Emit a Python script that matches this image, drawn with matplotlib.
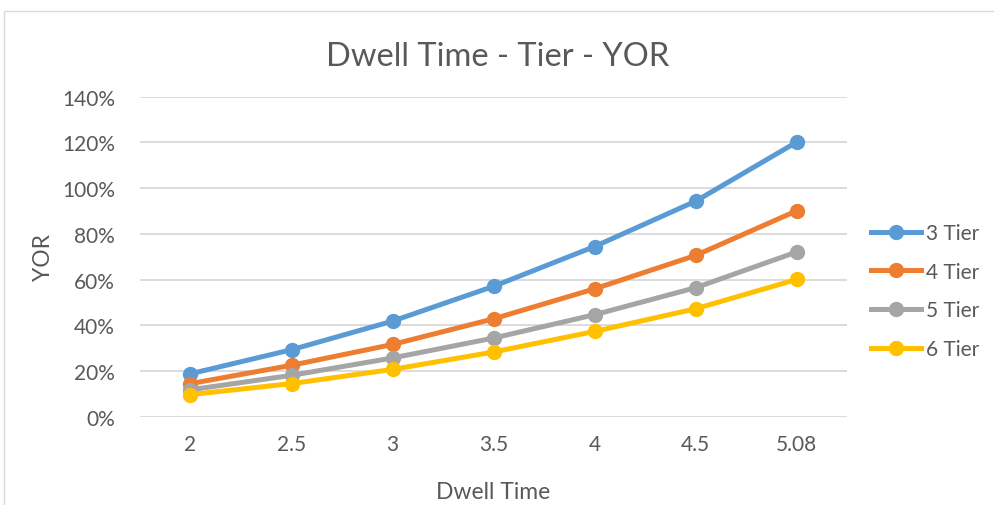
import matplotlib
matplotlib.use("Agg")
import matplotlib.pyplot as plt
from matplotlib.lines import Line2D
from matplotlib.patches import Rectangle

categories = ["2", "2.5", "3", "3.5", "4", "4.5", "5.08"]
tier3 = [18.9, 29.4, 41.9, 57.1, 74.5, 94.3, 120.1]
tier4 = [14.6, 22.6, 31.7, 42.9, 56.0, 70.6, 90.1]
tier5 = [11.9, 18.2, 25.8, 34.5, 44.7, 56.5, 72.1]
tier6 = [9.8, 14.6, 20.8, 28.4, 37.4, 47.3, 60.1]
series_names = ["3 Tier", "4 Tier", "5 Tier", "6 Tier"]
yticks = [0, 20, 40, 60, 80, 100, 120, 140]

colors = ["#5B9BD5", "#ED7D31", "#A5A5A5", "#FFC000"]
plt.rcParams["font.family"] = ["Lato", "DejaVu Sans"]
txt = "#595959"

fig = plt.figure(figsize=(9.95, 5.06), dpi=100)
fig.patches.append(Rectangle((4/995, -0.1), 1.2, 1 - 12/506 + 0.1, transform=fig.transFigure,
                             fill=False, edgecolor="#d9d9d9", linewidth=1.0))
ax = fig.add_axes([140/995, 1 - 418/506, (847 - 140)/995, (418 - 97.7)/506])
x = list(range(len(categories)))
for vals, c, n in zip([tier3, tier4, tier5, tier6], colors, series_names):
    ax.plot(x, vals, color=c, lw=3.6, marker="o", ms=10, label=n, zorder=3,
            solid_capstyle="round")

ax.set_xlim(-0.5, len(categories) - 0.5)
ax.set_ylim(0, 140)
ax.set_yticks(yticks)
ax.set_yticklabels([f"{v}%" for v in yticks])
ax.set_xticks(x)
ax.set_xticklabels(categories)
ax.grid(axis="y", color="#d9d9d9", lw=1.3)
ax.set_axisbelow(True)
for s in ax.spines.values():
    s.set_visible(False)
ax.tick_params(length=0, labelsize=15, colors=txt)
ax.tick_params(axis="y", pad=18)
ax.tick_params(axis="x", pad=12)
ax.set_xlabel("Dwell Time", fontsize=16.5, color=txt, labelpad=20)
ax.set_ylabel("YOR", fontsize=16.5, color=txt, labelpad=6)
fig.text(0.5, 1 - 57/506, "Dwell Time - Tier - YOR", ha="center", va="center",
         fontsize=23.5, color=txt)

handles = [Line2D([0], [0], color=c, lw=3.6, marker="o", ms=10) for c in colors]
leg = fig.legend(handles, series_names, loc="center left", bbox_to_anchor=(852/995, 1 - 292/506),
                 frameon=False, fontsize=15, labelcolor=txt, handlelength=2.4,
                 handletextpad=0.25, labelspacing=0.9)

fig.savefig("out.png", dpi=100)
